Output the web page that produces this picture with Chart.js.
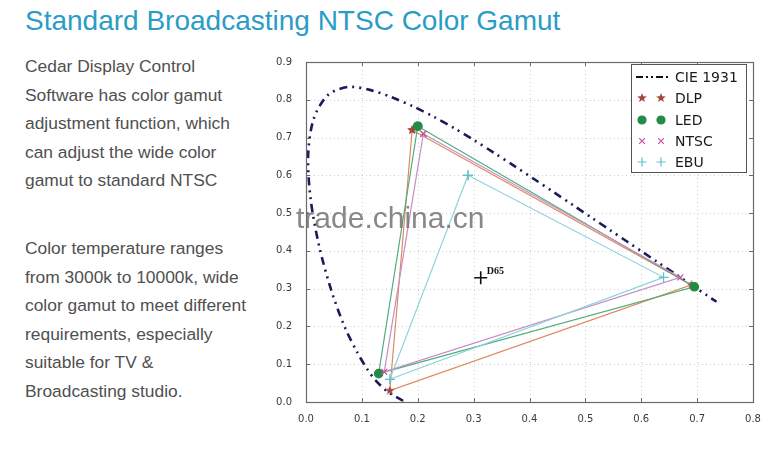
<!DOCTYPE html>
<html><head><meta charset="utf-8">
<script src="https://cdn.jsdelivr.net/npm/chart.js@4"></script>
<style>
html,body{margin:0;padding:0;background:#fff}
body{width:780px;height:457px;overflow:hidden;position:relative;font-family:"Liberation Sans",Arial,sans-serif}
#title{position:absolute;left:25px;top:3px;font-size:28px;color:#2b9cc6;white-space:nowrap;line-height:36px}
.p{position:absolute;left:25px;font-size:17.4px;line-height:28.5px;color:#505050;white-space:nowrap}
#wrap{position:absolute;left:270px;top:50px;width:500px;height:375px}
#wm{position:absolute;left:296px;top:201px;font-size:30px;color:rgba(115,115,115,0.85);white-space:nowrap;pointer-events:none}
</style></head>
<body>
<div id="title">Standard Broadcasting NTSC Color Gamut</div>
<div class="p" style="top:52px">Cedar Display Control<br>Software has color gamut<br>adjustment function, which<br>can adjust the wide color<br>gamut to standard NTSC</div>
<div class="p" style="top:234px">Color temperature ranges<br>from 3000k to 10000k, wide<br>color gamut to meet different<br>requirements, especially<br>suitable for TV &amp;<br>Broadcasting studio.</div>
<div id="wrap"><canvas id="c" width="500" height="375"></canvas></div>
<div id="wm">trade.china.cn</div>
<script>
// ---- data ----
const xTicks = [0.0,0.1,0.2,0.3,0.4,0.5,0.6,0.7,0.8];
const yTicks = [0.0,0.1,0.2,0.3,0.4,0.5,0.6,0.7,0.8,0.9];
// CIE 1931 spectral locus (open curve)
const cieX = [0.1741,0.1733,0.1714,0.1644,0.1566,0.1440,0.1241,0.1096,0.0913,0.0687,0.0454,0.0235,0.0082,0.0039,0.0139,0.0389,0.0743,0.1142,0.1547,0.1929,0.2296,0.2658,0.3016,0.3373,0.3731,0.4087,0.4441,0.4788,0.5125,0.5448,0.5752,0.6029,0.6270,0.6658,0.6915,0.7190,0.7347];
const cieY = [0.0050,0.0048,0.0051,0.0109,0.0177,0.0297,0.0578,0.0868,0.1327,0.2007,0.2950,0.4127,0.5384,0.6548,0.7502,0.8120,0.8338,0.8262,0.8059,0.7816,0.7543,0.7243,0.6923,0.6589,0.6245,0.5896,0.5547,0.5202,0.4866,0.4544,0.4242,0.3965,0.3725,0.3340,0.3083,0.2809,0.2653];
// gamut triangles: G, R, B
const dlpX = [0.19,0.69,0.15],   dlpY = [0.72,0.31,0.03];
const ledX = [0.20,0.695,0.13],  ledY = [0.73,0.305,0.075];
const ntscX = [0.21,0.67,0.14],  ntscY = [0.71,0.33,0.08];
const ebuX = [0.29,0.64,0.15],   ebuY = [0.60,0.33,0.06];
const d65X = [0.3127], d65Y = [0.329];
const seriesNames = ['CIE 1931','DLP','LED','NTSC','EBU'];

function pts(xs, ys, close){
  const a = xs.map((x,i)=>({x:x,y:ys[i]}));
  if (close) a.push({x:xs[0],y:ys[0]});
  return a;
}
function starCanvas(color, r){
  const s = Math.ceil(r*2+2);
  const c = document.createElement('canvas'); c.width = c.height = s;
  const g = c.getContext('2d'); g.fillStyle = color; g.beginPath();
  for (let i=0;i<10;i++){
    const rad = (i%2) ? r*0.42 : r;
    const a = -Math.PI/2 + i*Math.PI/5;
    g.lineTo(s/2+rad*Math.cos(a), s/2+rad*Math.sin(a));
  }
  g.closePath(); g.fill(); return c;
}
const C = {
  cie:'#1b1b5c',
  dlpL:'#dd8a62', dlpM:'#a4463c',
  ledL:'#4fae7c', ledM:'#238a48',
  ntL:'#c98dc6', ntM:'#c4509c',
  ebL:'#8fd3dc', ebM:'#5dc2cc'
};
const star = starCanvas(C.dlpM, 5);
const cieDash = [8,5,2,5,2,5];

function tri(label, xs, ys, lc, mc, style, r, order){
  return {label:label, data:pts(xs,ys,true), showLine:true, borderColor:lc, borderWidth:1.2,
    pointStyle:style, pointRadius:r, pointBackgroundColor:mc, pointBorderColor:mc,
    pointBorderWidth:1.2, order:order, tension:0, fill:false};
}

const frame = {
  id:'frame',
  beforeDatasetsDraw(chart){
    const {ctx, chartArea:a, scales:{x,y}} = chart;
    ctx.save();
    ctx.strokeStyle = '#d0d0d0'; ctx.lineWidth = 1; ctx.setLineDash([1,3]);
    xTicks.forEach(v=>{const px=Math.round(x.getPixelForValue(v))+0.5; ctx.beginPath(); ctx.moveTo(px,a.top); ctx.lineTo(px,a.bottom); ctx.stroke();});
    yTicks.forEach(v=>{const py=Math.round(y.getPixelForValue(v))+0.5; ctx.beginPath(); ctx.moveTo(a.left,py); ctx.lineTo(a.right,py); ctx.stroke();});
    ctx.restore();
  },
  afterDatasetsDraw(chart){
    const {ctx, chartArea:a, scales:{x,y}} = chart;
    ctx.save();
    ctx.strokeStyle = '#6a6a6a'; ctx.lineWidth = 1.2; ctx.setLineDash([]);
    ctx.strokeRect(Math.round(a.left)+0.5, Math.round(a.top)+0.5, Math.round(a.right-a.left), Math.round(a.bottom-a.top));
    ctx.lineWidth = 1;
    xTicks.forEach(v=>{const px=Math.round(x.getPixelForValue(v))+0.5; ctx.beginPath(); ctx.moveTo(px,a.bottom); ctx.lineTo(px,a.bottom-4); ctx.moveTo(px,a.top); ctx.lineTo(px,a.top+4); ctx.stroke();});
    yTicks.forEach(v=>{const py=Math.round(y.getPixelForValue(v))+0.5; ctx.beginPath(); ctx.moveTo(a.left,py); ctx.lineTo(a.left+4,py); ctx.moveTo(a.right,py); ctx.lineTo(a.right-4,py); ctx.stroke();});
    const dx = x.getPixelForValue(d65X[0]), dy = y.getPixelForValue(d65Y[0]);
    ctx.fillStyle = '#111'; ctx.font = 'bold 10px "Liberation Serif", serif';
    ctx.textBaseline = 'alphabetic'; ctx.textAlign = 'left';
    ctx.fillText('D65', dx+6, dy-4);
    // legend
    const L = 361, T = 14, R = 476, B = 122;
    ctx.fillStyle = '#fff'; ctx.fillRect(L,T,R-L,B-T);
    ctx.strokeStyle = '#555'; ctx.lineWidth = 1;
    ctx.strokeRect(L+0.5,T+0.5,R-L,B-T);
    const rows = [27,48,70,91,112];
    const mx1 = 372, mx2 = 391, tx = 405;
    ctx.strokeStyle = '#111'; ctx.lineWidth = 2; ctx.setLineDash([7,3,2,3,2,3]);
    ctx.beginPath(); ctx.moveTo(366,rows[0]); ctx.lineTo(398,rows[0]); ctx.stroke();
    ctx.setLineDash([]);
    [mx1,mx2].forEach(mx=>{
      ctx.drawImage(star, mx-star.width/2, rows[1]-star.height/2);
      ctx.fillStyle = C.ledM; ctx.strokeStyle = C.ledM; ctx.lineWidth = 1.2;
      Chart.helpers.drawPoint(ctx,{pointStyle:'circle',radius:4,borderWidth:1.2,rotation:0},mx,rows[2]);
      ctx.fillStyle = C.ntM; ctx.strokeStyle = C.ntM;
      Chart.helpers.drawPoint(ctx,{pointStyle:'crossRot',radius:4,borderWidth:1.1,rotation:0},mx,rows[3]);
      ctx.fillStyle = C.ebM; ctx.strokeStyle = C.ebM;
      Chart.helpers.drawPoint(ctx,{pointStyle:'cross',radius:4.5,borderWidth:1.1,rotation:0},mx,rows[4]);
    });
    ctx.fillStyle = '#1a1a1a'; ctx.font = '14px "DejaVu Sans", sans-serif'; ctx.textBaseline = 'middle';
    seriesNames.forEach((n,i)=>ctx.fillText(n, tx, rows[i]+1));
    ctx.restore();
  }
};

new Chart(document.getElementById('c'), {
  type:'scatter',
  data:{datasets:[
    {label:seriesNames[0], data:pts(cieX,cieY,false), showLine:true, borderColor:C.cie, borderWidth:2.6,
     borderDash:cieDash, pointRadius:0, order:10, tension:0.3, fill:false},
    tri(seriesNames[1], dlpX, dlpY, C.dlpL, C.dlpM, star, 5, 4),
    tri(seriesNames[2], ledX, ledY, C.ledL, C.ledM, 'circle', 4.2, 3),
    tri(seriesNames[3], ntscX, ntscY, C.ntL, C.ntM, 'crossRot', 4.2, 2),
    tri(seriesNames[4], ebuX, ebuY, C.ebL, C.ebM, 'cross', 5, 1),
    {label:'D65', data:pts(d65X,d65Y,false), pointStyle:'cross', pointRadius:6.5, pointBorderWidth:1.6,
     pointBorderColor:'#111', pointBackgroundColor:'#111', order:0}
  ]},
  options:{
    responsive:false, animation:false, events:[],
    layout:{padding:{left:0, top:10, right:17, bottom:0}},
    plugins:{legend:{display:false}, tooltip:{enabled:false}},
    scales:{
      x:{type:'linear', min:0, max:0.8,
         afterBuildTicks(s){ s.ticks = xTicks.map(v=>({value:v})); },
         afterFit(s){ s.height = 23; },
         grid:{display:false}, border:{display:false},
         ticks:{padding:3, color:'#3a3a3a', font:{family:'"DejaVu Sans", sans-serif', size:10}, maxRotation:0,
                callback:v=>Number(v).toFixed(1)}},
      y:{type:'linear', min:0, max:0.9,
         afterBuildTicks(s){ s.ticks = yTicks.map(v=>({value:v})); },
         afterFit(s){ s.width = 36; },
         grid:{display:false}, border:{display:false},
         ticks:{padding:6, color:'#3a3a3a', font:{family:'"DejaVu Sans", sans-serif', size:10},
                callback:v=>Number(v).toFixed(1)}}
    }
  },
  plugins:[frame]
});
</script>
</body></html>
